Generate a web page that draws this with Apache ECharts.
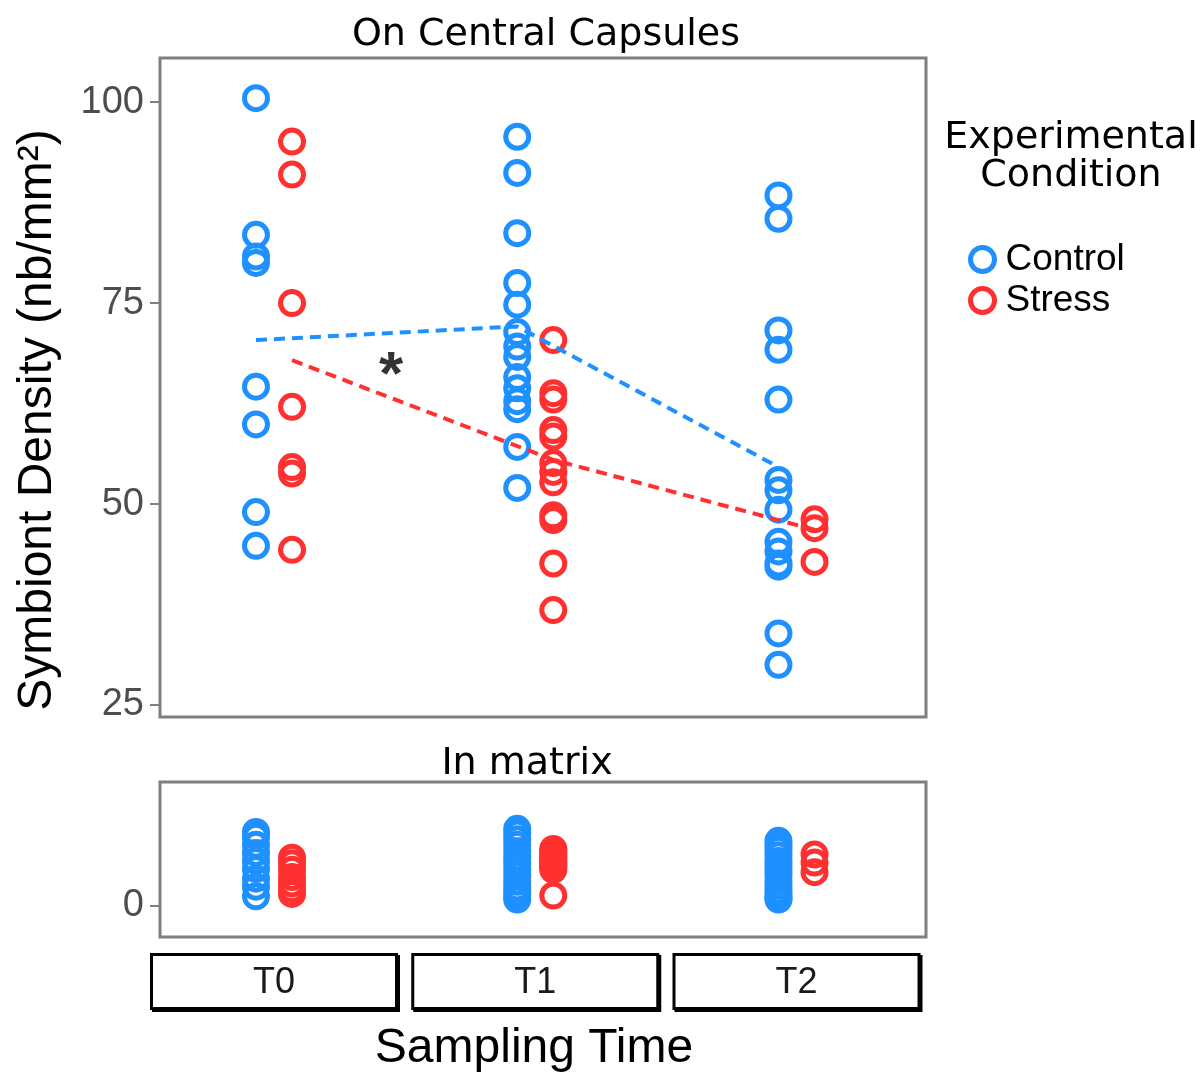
<!DOCTYPE html>
<html>
<head>
<meta charset="utf-8">
<script src="https://cdn.jsdelivr.net/npm/echarts@6/dist/echarts.min.js"></script>
<style>
html,body{margin:0;padding:0;background:#fff;}
#chart{width:1204px;height:1076px;}
</style>
</head>
<body>
<div id="chart"></div>
<script>
// ---- data ----
const timeLabels = ['T0', 'T1', 'T2'];
const conditions = ['Control', 'Stress'];
// "On Central Capsules" panel (nb/mm²)
const capsControl = [
  [100.5, 83.5, 80.8, 80.0, 64.6, 59.9, 49.0, 44.8],
  [95.7, 91.2, 83.7, 77.5, 74.8, 71.4, 69.6, 68.3, 65.8, 64.4, 62.8, 61.8, 57.1, 52.0],
  [88.4, 85.5, 71.6, 69.2, 63.0, 53.0, 51.7, 49.3, 45.3, 44.1, 42.6, 42.2, 33.9, 30.0]
];
const capsStress = [
  [95.1, 91.0, 75.0, 62.1, 54.6, 53.8, 44.3],
  [70.4, 63.8, 63.0, 59.2, 58.4, 55.1, 54.0, 52.7, 48.6, 48.0, 42.6, 36.8],
  [48.1, 47.0, 42.8]
];
// "In matrix" panel
const matControl = [
  [9.2, 8.6, 7.6, 6.6, 5.6, 4.6, 3.4, 2.4, 1.2],
  [9.6, 9.0, 8.3, 7.6, 6.8, 6.0, 5.3, 4.6, 3.8, 3.0, 2.3, 1.7, 1.2, 0.8],
  [8.1, 7.6, 7.0, 6.3, 5.6, 5.0, 4.4, 3.8, 3.1, 2.5, 1.9, 1.4, 1.0, 0.8]
];
const matStress = [
  [6.0, 5.3, 4.5, 3.6, 2.8, 2.1, 1.5],
  [7.1, 6.8, 6.5, 6.2, 6.0, 5.7, 5.4, 5.2, 5.0, 4.8, 4.5, 1.3],
  [6.4, 5.4, 4.2]
];
// dashed trend lines (group means) on the capsule panel
const trendControl = [70.4, 72.1, 54.6];
const trendStress = [67.9, 55.5, 46.8];
// significance annotation (between T0 and T1)
const annotTime = [1.44];
const annotValue = [67.3];
const annotText = ['*'];
// tick labels
const capsTicks = [25, 50, 75, 100];
const matTicks = [0];

// ---- styling ----
const BLUE = '#1E90FF';
const RED = '#FF3030';
const DODGE = 0.069;
const XMIN = 0.5636, XMAX = 3.4957;
const SANS = 'Liberation Sans, Arial, sans-serif';
const DJV = 'DejaVu Sans, sans-serif';

function pts(groups, off) {
  const out = [];
  groups.forEach((g, i) => g.forEach(v => out.push([i + 1 + off, v])));
  return out;
}
function trend(vals, off) {
  return vals.map((v, i) => [i + 1 + off, v]);
}
function ring(color) {
  return { color: 'rgba(0,0,0,0)', borderColor: color, borderWidth: 5, opacity: 1 };
}
const scatterBase = { type: 'scatter', symbol: 'circle', symbolSize: 23, silent: true };

const chart = echarts.init(document.getElementById('chart'), null, { renderer: 'canvas' });

const yAxisCommon = {
  type: 'value',
  axisLine: { show: false },
  splitLine: { show: false },
  axisTick: { show: true, length: 10, lineStyle: { color: '#7f7f7f', width: 2 } },
  axisLabel: { color: '#4d4d4d', fontSize: 38, fontFamily: SANS, margin: 16 }
};
const xHidden = { type: 'value', min: XMIN, max: XMAX, show: false };

const option = {
  animation: false,
  backgroundColor: '#fff',
  grid: [
    { left: 160, top: 58, width: 766, height: 659, show: true, borderColor: '#7f7f7f', borderWidth: 3, backgroundColor: '#fff' },
    { left: 160, top: 782, width: 766, height: 155, show: true, borderColor: '#7f7f7f', borderWidth: 3, backgroundColor: '#fff' },
    { left: 160, top: 942, width: 766, height: 8, show: false }
  ],
  xAxis: [
    Object.assign({ gridIndex: 0 }, xHidden),
    Object.assign({ gridIndex: 1 }, xHidden),
    {
      gridIndex: 2, type: 'value', min: XMIN, max: XMAX,
      axisLine: { show: false }, axisTick: { show: false }, splitLine: { show: false },
      axisLabel: {
        customValues: [1, 2, 3],
        formatter: v => timeLabels[Math.round(v) - 1],
        margin: 6,
        fontSize: 36, fontFamily: SANS, color: '#1a1a1a',
        backgroundColor: '#fff', borderColor: '#000', borderWidth: 3,
        width: 242, height: 51, lineHeight: 54, align: 'center',
        shadowColor: '#000', shadowOffsetX: 2, shadowOffsetY: 2, shadowBlur: 0
      }
    }
  ],
  yAxis: [
    Object.assign({}, yAxisCommon, {
      gridIndex: 0, min: 23.5, max: 105.5,
      axisTick: Object.assign({}, yAxisCommon.axisTick, { customValues: capsTicks }),
      axisLabel: Object.assign({}, yAxisCommon.axisLabel, { customValues: capsTicks })
    }),
    Object.assign({}, yAxisCommon, {
      gridIndex: 1, min: -3.86, max: 15.42,
      axisTick: Object.assign({}, yAxisCommon.axisTick, { customValues: matTicks }),
      axisLabel: Object.assign({}, yAxisCommon.axisLabel, { customValues: matTicks })
    }),
    { gridIndex: 2, type: 'value', show: false, min: 0, max: 1 }
  ],
  legend: {
    orient: 'vertical', left: 963, top: 236,
    itemWidth: 24, itemHeight: 24, itemGap: 4, selectedMode: false,
    textStyle: { fontSize: 37, fontFamily: SANS, color: '#000', padding: [0, 0, 0, 6] },
    data: [
      { name: conditions[0], icon: 'circle', itemStyle: ring(BLUE) },
      { name: conditions[1], icon: 'circle', itemStyle: ring(RED) }
    ]
  },
  graphic: [
    { type: 'text', x: 546, y: 35, style: { text: 'On Central Capsules', font: '38px ' + DJV, fill: '#000', textAlign: 'center', textVerticalAlign: 'middle' } },
    { type: 'text', x: 527, y: 764, style: { text: 'In matrix', font: '38px ' + DJV, fill: '#000', textAlign: 'center', textVerticalAlign: 'middle' } },
    { type: 'text', x: 1071, y: 157, style: { text: 'Experimental\nCondition', font: '38px ' + DJV, lineHeight: 38, fill: '#000', textAlign: 'center', textVerticalAlign: 'middle' } },
    { type: 'text', x: 38, y: 420, rotation: Math.PI / 2, style: { text: 'Symbiont Density (nb/mm²)', font: '48px ' + SANS, fill: '#000', textAlign: 'center', textVerticalAlign: 'middle' } },
    { type: 'text', x: 534, y: 1049, style: { text: 'Sampling Time', font: '48px ' + SANS, fill: '#000', textAlign: 'center', textVerticalAlign: 'middle' } }
  ],
  series: [
    Object.assign({}, scatterBase, { name: conditions[0], xAxisIndex: 0, yAxisIndex: 0, itemStyle: ring(BLUE), data: pts(capsControl, -DODGE), z: 2 }),
    Object.assign({}, scatterBase, { name: conditions[1], xAxisIndex: 0, yAxisIndex: 0, itemStyle: ring(RED), data: pts(capsStress, DODGE), z: 2 }),
    Object.assign({}, scatterBase, { name: conditions[0], xAxisIndex: 1, yAxisIndex: 1, itemStyle: ring(BLUE), data: pts(matControl, -DODGE), z: 2 }),
    Object.assign({}, scatterBase, { name: conditions[1], xAxisIndex: 1, yAxisIndex: 1, itemStyle: ring(RED), data: pts(matStress, DODGE), z: 2 }),
    { type: 'line', name: 'trendControl', xAxisIndex: 0, yAxisIndex: 0, data: trend(trendControl, -DODGE), symbol: 'none', silent: true, z: 3,
      lineStyle: { color: BLUE, width: 4, type: [11, 7] } },
    { type: 'line', name: 'trendStress', xAxisIndex: 0, yAxisIndex: 0, data: trend(trendStress, DODGE), symbol: 'none', silent: true, z: 3,
      lineStyle: { color: RED, width: 4, type: [11, 7] } },
    { type: 'scatter', name: 'annot', xAxisIndex: 0, yAxisIndex: 0, symbolSize: 1, itemStyle: { color: 'rgba(0,0,0,0)' }, silent: true, z: 4,
      data: annotTime.map((t, i) => ({ value: [t, annotValue[i]], label: { formatter: annotText[i] } })),
      label: { show: true, position: 'inside', offset: [2, 12], fontSize: 62, fontWeight: 'bold', fontFamily: SANS, color: '#000' } },
    { type: 'scatter', name: 'strip', xAxisIndex: 2, yAxisIndex: 2, data: [], silent: true }
  ]
};
chart.setOption(option);
</script>
</body>
</html>
